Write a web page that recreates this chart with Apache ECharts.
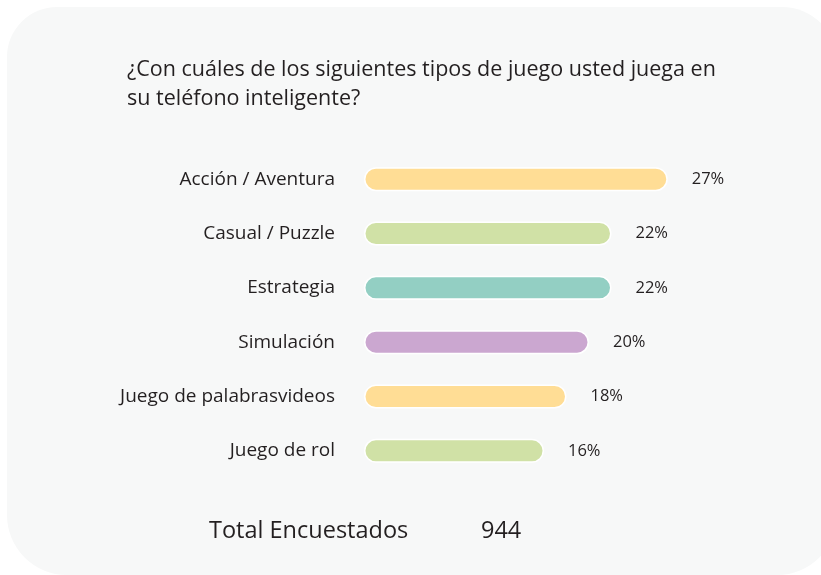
<!DOCTYPE html>
<html>
<head>
<meta charset="utf-8">
<script src="https://cdn.jsdelivr.net/npm/echarts@6/dist/echarts.min.js"></script>
<style>
html,body{margin:0;padding:0;background:#ffffff;}
#chart{width:821px;height:575px;}
</style>
</head>
<body>
<div id="chart"></div>
<script>
const categories = ['Acción / Aventura', 'Casual / Puzzle', 'Estrategia', 'Simulación', 'Juego de palabrasvideos', 'Juego de rol'];
const values = [27, 22, 22, 20, 18, 16];
const barColors = ['#FFDD95', '#D0E1A6', '#93CFC3', '#CBA7D0', '#FFDD95', '#D0E1A6'];
const titleText = '¿Con cuáles de los siguientes tipos de juego usted juega en\nsu teléfono inteligente?';
const totalLabel = 'Total Encuestados';
const totalValue = '944';

const FONT = 'Open Sans';
const chart = echarts.init(document.getElementById('chart'), null, {renderer: 'canvas'});
chart.setOption({
  backgroundColor: '#ffffff',
  animation: false,
  graphic: [
    {type: 'rect', z: -10, shape: {x: 7, y: 7, width: 830, height: 568, r: [50, 55, 60, 60]}, style: {fill: '#F7F8F8'}},
    {type: 'text', left: 127, top: 55, style: {text: titleText, font: '21.5px "' + FONT + '"', fill: '#231F20', lineHeight: 29}},
    {type: 'text', left: 209, top: 519, style: {text: totalLabel, font: '23.5px "' + FONT + '"', fill: '#231F20'}},
    {type: 'text', left: 481, top: 519, style: {text: totalValue, font: '23.5px "' + FONT + '"', fill: '#231F20'}}
  ],
  grid: {left: 364, right: 7, top: 152, bottom: 97},
  xAxis: {type: 'value', min: 0, max: 40, show: false},
  yAxis: {
    type: 'category', data: categories, inverse: true,
    axisLine: {show: false}, axisTick: {show: false}, splitLine: {show: false},
    axisLabel: {color: '#231F20', fontSize: 19, fontFamily: FONT, margin: 29}
  },
  series: [{
    type: 'bar',
    data: values.map((v, i) => ({value: v, itemStyle: {color: barColors[i]}})),
    barWidth: 24,
    itemStyle: {borderRadius: 12, borderColor: '#ffffff', borderWidth: 1.5},
    label: {show: true, position: 'right', distance: 24, formatter: '{c}%', color: '#231F20', fontSize: 16.5, fontFamily: FONT}
  }]
});
</script>
</body>
</html>
